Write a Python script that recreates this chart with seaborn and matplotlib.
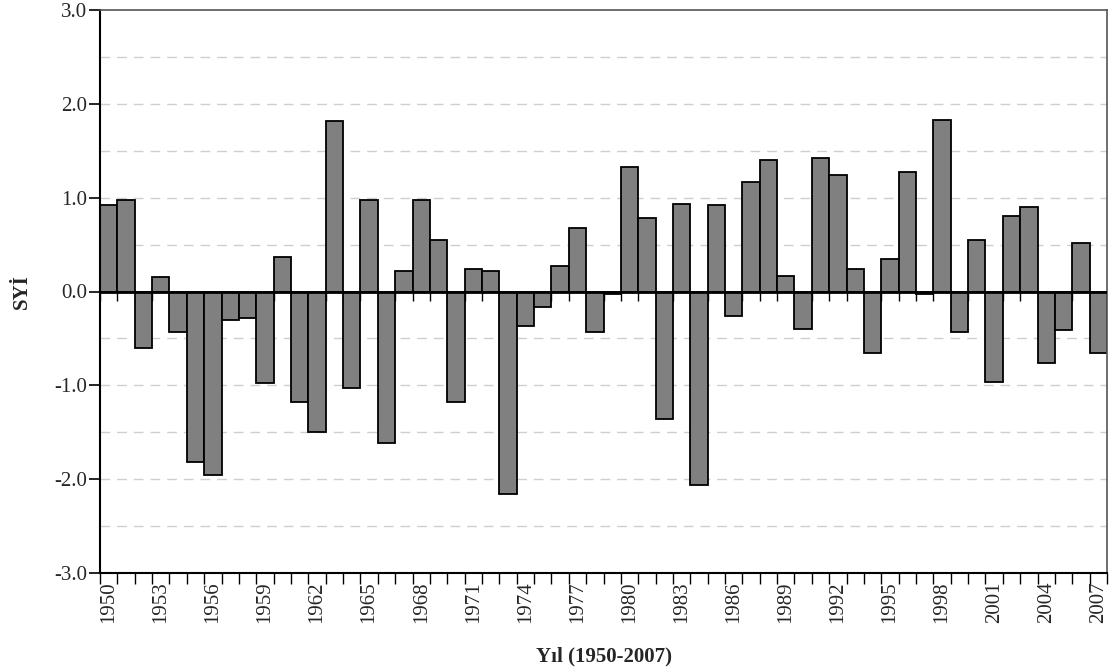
"""SYİ (standartlaştırılmış yağış indeksi) 1950-2007 çubuk grafiği"""

import numpy as np
import pandas as pd
import matplotlib.pyplot as plt
import seaborn as sns

years = list(range(1950, 2008))
syi = [0.92, 0.98, -0.60, 0.15, -0.43, -1.82, -1.96, -0.30, -0.28, -0.98,
       0.37, -1.18, -1.50, 1.82, -1.03, 0.98, -1.61, 0.22, 0.97, 0.55,
       -1.18, 0.24, 0.22, -2.16, -0.37, -0.17, 0.27, 0.68, -0.43, -0.03,
       1.33, 0.78, -1.36, 0.93, -2.06, 0.92, -0.26, 1.17, 1.40, 0.17,
       -0.40, 1.42, 1.24, 0.24, -0.66, 0.35, 1.27, -0.03, 1.83, -0.43,
       0.55, -0.96, 0.80, 0.90, -0.76, -0.41, 0.52, -0.66]
y_major = [-3, -2, -1, 0, 1, 2, 3]
y_grid = [-2.5, -2.0, -1.5, -1.0, -0.5, 0.5, 1.0, 1.5, 2.0, 2.5]
label_step = 3

df = pd.DataFrame({'Yıl': years, 'SYİ': syi})

sns.set_style('white')
plt.rcParams['font.family'] = ['Liberation Serif', 'DejaVu Serif']

fig = plt.figure(figsize=(11.09, 6.72), dpi=100)
ax = fig.add_axes([100 / 1109, 1 - 573 / 672, 1007 / 1109, 563 / 672])

# yatay kesikli ızgara
for g in y_grid:
    ax.axhline(g, color='#cfcfcf', lw=1.0, ls=(0, (7, 5)), zorder=0)

n = len(years)
edges = np.arange(n + 1) - 0.5
# sıfır çizgisindeki küçük tikler (çubukların arkasında)
ax.vlines(edges, -0.1, 0, color='black', lw=1.0, zorder=1)

sns.barplot(data=df, x='Yıl', y='SYİ', color='#808080', saturation=1,
            width=1.0, edgecolor='black', linewidth=1.3, ax=ax, zorder=2)

ax.axhline(0, color='black', lw=2.0, zorder=3)

ax.set_xlim(-0.5, n - 0.5)
ax.set_ylim(-3, 3)

ax.set_yticks(y_major)
ax.set_yticklabels([f'{v:.1f}' for v in y_major])
ax.set_xticks(range(0, n, label_step))
ax.set_xticklabels([str(y) for y in years[::label_step]], rotation=90)
ax.set_xticks(edges, minor=True)

ax.tick_params(axis='x', which='major', length=0, pad=6, labelsize=15)
ax.tick_params(axis='x', which='minor', length=8, width=1.0, color='black',
               direction='out', bottom=True)
ax.tick_params(axis='y', which='major', length=8, width=1.2, color='black',
               direction='out', left=True, labelsize=15, pad=1)

for side in ['left', 'bottom']:
    ax.spines[side].set_color('black')
    ax.spines[side].set_linewidth(1.5)
for side in ['top', 'right']:
    ax.spines[side].set_color('#555555')
    ax.spines[side].set_linewidth(1.2)

ax.set_xlabel('Yıl (1950-2007)', fontsize=15, fontweight='bold', labelpad=17)
ax.set_ylabel('SYİ', fontsize=15, fontweight='bold', labelpad=16)

fig.savefig('out.png', dpi=100)
